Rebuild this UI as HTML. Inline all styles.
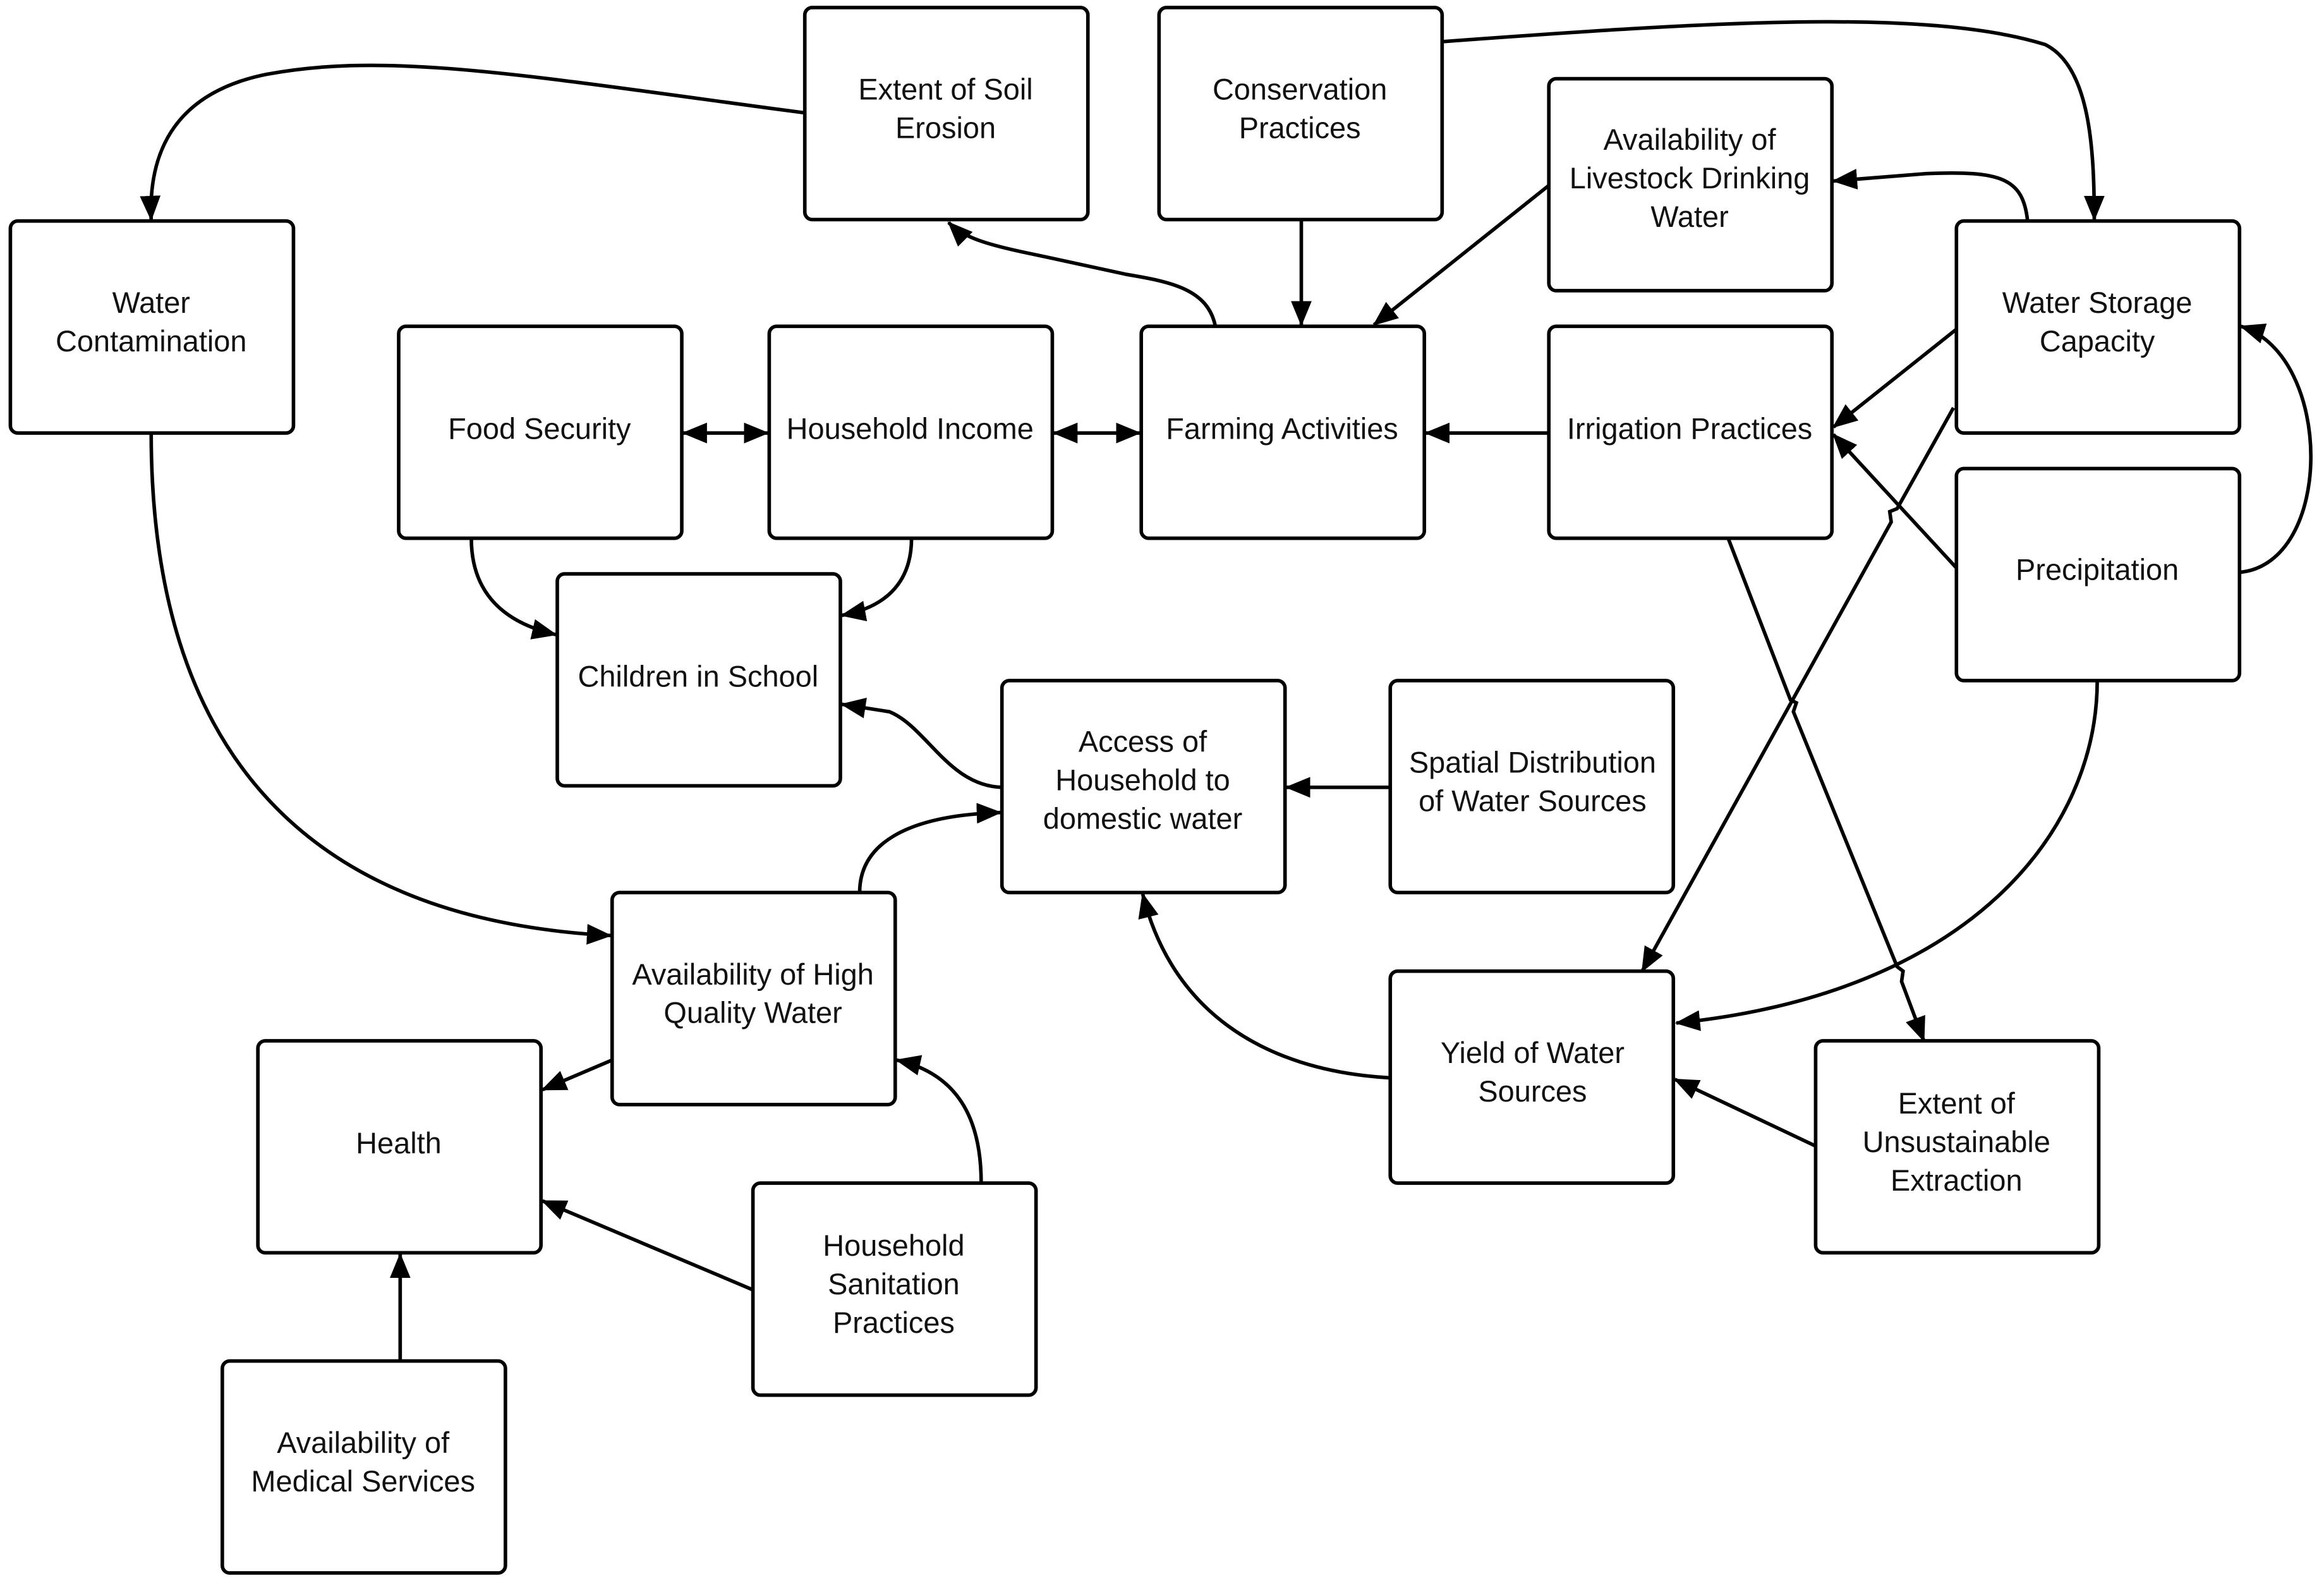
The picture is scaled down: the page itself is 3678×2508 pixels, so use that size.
<!DOCTYPE html>
<html><head><meta charset="utf-8"><style>
html,body{margin:0;padding:0;background:#fff;}
svg{display:block;}
text{font-family:"Liberation Sans",sans-serif;font-size:20px;fill:#111;text-anchor:middle;}
</style></head><body>
<svg width="3678" height="2508" viewBox="0 0 1568 1069" xmlns="http://www.w3.org/2000/svg">
<defs>
<marker id="a" markerUnits="userSpaceOnUse" markerWidth="18" markerHeight="14" refX="16" refY="7" orient="auto-start-reverse">
<path d="M0,0 L17,7 L0,14 Z" fill="#000"/>
</marker>
</defs>
<g fill="#fff" stroke="#000" stroke-width="2.4">
<rect x="543" y="5" width="191" height="143" rx="5"/>
<rect x="782" y="5" width="191" height="143" rx="5"/>
<rect x="1045" y="53" width="191" height="143" rx="5"/>
<rect x="7" y="149" width="191" height="143" rx="5"/>
<rect x="1320" y="149" width="191" height="143" rx="5"/>
<rect x="269" y="220" width="191" height="143" rx="5"/>
<rect x="519" y="220" width="191" height="143" rx="5"/>
<rect x="770" y="220" width="191" height="143" rx="5"/>
<rect x="1045" y="220" width="191" height="143" rx="5"/>
<rect x="1320" y="316" width="191" height="143" rx="5"/>
<rect x="376" y="387" width="191" height="143" rx="5"/>
<rect x="676" y="459" width="191" height="143" rx="5"/>
<rect x="938" y="459" width="191" height="143" rx="5"/>
<rect x="413" y="602" width="191" height="143" rx="5"/>
<rect x="938" y="655" width="191" height="143" rx="5"/>
<rect x="174" y="702" width="191" height="143" rx="5"/>
<rect x="1225" y="702" width="191" height="143" rx="5"/>
<rect x="508" y="798" width="191" height="143" rx="5"/>
<rect x="150" y="918" width="191" height="143" rx="5"/>
</g>
<g fill="none" stroke="#000" stroke-width="2.4" marker-end="url(#a)">
<path d="M543,76 L520,73 C350,50 260,35 180,50 C120,62 100,100 102,148"/>
<path d="M878,148 L878,219"/>
<path d="M820,220 C815,195 790,190 760,185 L700,172 C665,165 650,160 640,150"/>
<path d="M973,28 C1150,15 1300,5 1380,30 C1410,45 1413,100 1413,148"/>
<path d="M1368,149 C1365,120 1350,115 1300,117 L1237,122"/>
<path d="M1045,125 L927,219"/>
<path d="M1045,292 L962,292"/>
<path d="M711,292 L769,292" marker-start="url(#a)"/>
<path d="M461,292 L518,292" marker-start="url(#a)"/>
<path d="M318,363 C318,400 340,420 375,428"/>
<path d="M615,363 C615,395 595,410 568,415"/>
<path d="M1320,222 L1237,288"/>
<path d="M1320,383 L1237,293"/>
<path d="M1511,386 C1575,380 1575,240 1512,220"/>
<path d="M1318,275 L1280,343 L1275,345 L1276,352 L1108,655"/>
<path d="M1166,363 L1208,472 L1212,474 L1210,480 L1280,652 L1284,655 L1283,662 L1298,702"/>
<path d="M1415,459 C1415,560 1330,670 1131,690"/>
<path d="M1225,773 L1130,728"/>
<path d="M938,727 C850,722 790,680 771,603"/>
<path d="M938,531 L868,531"/>
<path d="M676,531 C640,530 625,490 600,480 L568,475"/>
<path d="M580,602 C580,570 610,550 675,548"/>
<path d="M102,292 C102,500 200,620 412,631"/>
<path d="M413,715 L366,735"/>
<path d="M662,798 C662,760 650,725 605,715"/>
<path d="M508,870 L366,810"/>
<path d="M270,918 L270,846"/>
</g>
<text x="638" y="67">Extent of Soil</text><text x="638" y="93">Erosion</text>
<text x="877" y="67">Conservation</text><text x="877" y="93">Practices</text>
<text x="1140" y="101">Availability of</text><text x="1140" y="127">Livestock Drinking</text><text x="1140" y="153">Water</text>
<text x="102" y="211">Water</text><text x="102" y="237">Contamination</text>
<text x="1415" y="211">Water Storage</text><text x="1415" y="237">Capacity</text>
<text x="364" y="296">Food Security</text>
<text x="614" y="296">Household Income</text>
<text x="865" y="296">Farming Activities</text>
<text x="1140" y="296">Irrigation Practices</text>
<text x="1415" y="391">Precipitation</text>
<text x="471" y="463">Children in School</text>
<text x="771" y="507">Access of</text><text x="771" y="533">Household to</text><text x="771" y="559">domestic water</text>
<text x="1034" y="521">Spatial Distribution</text><text x="1034" y="547">of Water Sources</text>
<text x="508" y="664">Availability of High</text><text x="508" y="690">Quality Water</text>
<text x="1034" y="717">Yield of Water</text><text x="1034" y="743">Sources</text>
<text x="269" y="778">Health</text>
<text x="1320" y="751">Extent of</text><text x="1320" y="777">Unsustainable</text><text x="1320" y="803">Extraction</text>
<text x="603" y="847">Household</text><text x="603" y="873">Sanitation</text><text x="603" y="899">Practices</text>
<text x="245" y="980">Availability of</text><text x="245" y="1006">Medical Services</text>
</svg>
</body></html>
